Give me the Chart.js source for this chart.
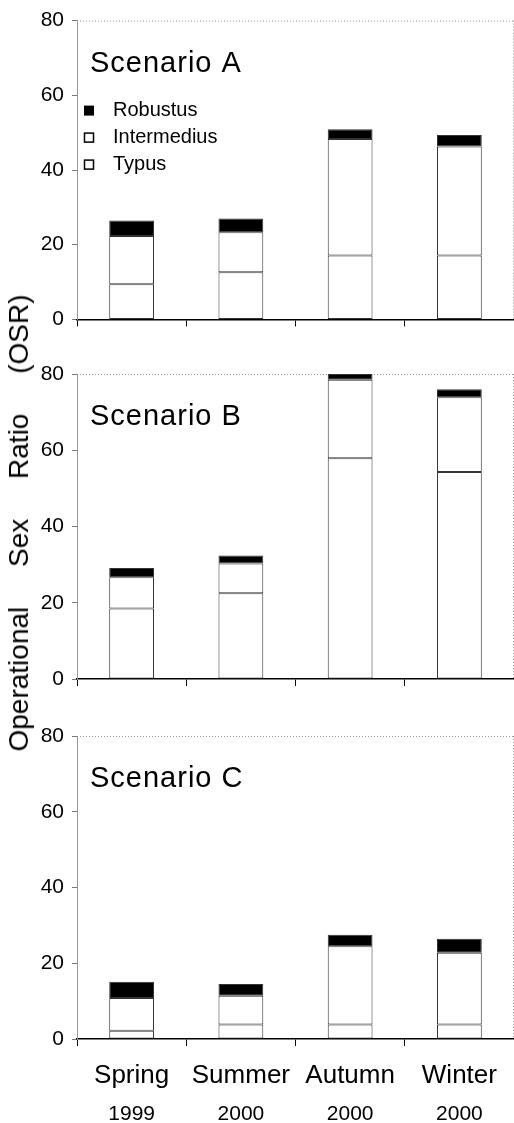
<!DOCTYPE html>
<html>
<head>
<meta charset="utf-8">
<script src="https://cdn.jsdelivr.net/npm/chart.js@4/dist/chart.umd.min.js"></script>
<style>
  body { margin: 0; background: #fff; }
  #wrap { position: relative; width: 514px; height: 1123px; }
  canvas { position: absolute; left: 0; }
  #ytitle {
    position: absolute; left: 19px; top: 523px;
    transform: translate(-50%, -50%) rotate(-90deg);
    font: 28px "Liberation Sans", Arial, sans-serif;
    word-spacing: 32px; white-space: nowrap; color: #000;
  }
</style>
</head>
<body>
<div id="wrap">
  <canvas id="panelA" width="514" height="340" style="top:0"></canvas>
  <canvas id="panelB" width="514" height="360" style="top:340px"></canvas>
  <canvas id="panelC" width="514" height="423" style="top:700px"></canvas>
  <div id="ytitle">Operational Sex Ratio (OSR)</div>
</div>
<script>
// categories
const seasons = ['Spring', 'Summer', 'Autumn', 'Winter'];
const years = ['1999', '2000', '2000', '2000'];
const seriesNames = ['Typus', 'Intermedius', 'Robustus'];
const yTicks = [0, 20, 40, 60, 80];

// Scenario A
const typusA = [9.4, 12.6, 17.1, 17.1];
const intermediusA = [12.9, 10.7, 31.2, 29.2];
const robustusA = [4.2, 3.7, 2.6, 3.1];

// Scenario B
const typusB = [18.5, 22.5, 57.9, 54.3];
const intermediusB = [8.2, 7.8, 20.6, 19.6];
const robustusB = [2.4, 2.1, 1.5, 2.1];

// Scenario C
const typusC = [2.2, 3.8, 3.8, 3.8];
const intermediusC = [8.6, 7.6, 20.7, 19.0];
const robustusC = [4.3, 3.1, 3.0, 3.7];

const FONT = '"Liberation Sans", Arial, sans-serif';
Chart.defaults.font.family = FONT;
Chart.defaults.color = '#000';

// cadre pointillé, titre du panneau et légende
const panelDecor = {
  id: 'panelDecor',
  beforeDatasetsDraw(chart) {
    const { ctx, chartArea: a } = chart;
    ctx.save();
    ctx.strokeStyle = '#999';
    ctx.lineWidth = 1;
    ctx.setLineDash([1, 2]);
    ctx.beginPath();
    ctx.moveTo(a.left, a.top + 0.5);
    ctx.lineTo(a.right, a.top + 0.5);
    ctx.moveTo(a.right - 0.5, a.top);
    ctx.lineTo(a.right - 0.5, a.bottom);
    ctx.stroke();
    ctx.restore();
  },
  afterDraw(chart, args, opts) {
    const { ctx, chartArea: a } = chart;
    ctx.save();
    ctx.fillStyle = '#000';
    ctx.textBaseline = 'alphabetic';
    ctx.font = '29px ' + FONT;
    ctx.letterSpacing = '1px';
    ctx.fillText(opts.title, a.left + 13, a.top + 51);
    ctx.letterSpacing = '0px';
    if (opts.legend) {
      ctx.font = '20px ' + FONT;
      ctx.textBaseline = 'middle';
      const items = chart.data.datasets.slice().reverse();
      items.forEach((ds, i) => {
        const cy = a.top + 90 + i * 27;
        const x = a.left + 7;
        if (ds.backgroundColor === '#000') {
          ctx.fillStyle = '#000';
          ctx.fillRect(x, cy - 5, 10, 10);
        } else {
          ctx.strokeStyle = '#000';
          ctx.lineWidth = 1.5;
          ctx.strokeRect(x + 0.5, cy - 4.5, 9, 9);
        }
        ctx.fillStyle = '#000';
        ctx.fillText(ds.label, a.left + 36, cy);
      });
    }
    ctx.restore();
  }
};

function criarPainel(id, title, typus, inter, robust, cfg) {
  const datasets = [
    { label: seriesNames[0], data: typus, backgroundColor: '#fff' },
    { label: seriesNames[1], data: inter, backgroundColor: '#fff' },
    { label: seriesNames[2], data: robust, backgroundColor: '#000' }
  ].map(d => Object.assign(d, {
    borderColor: '#333', borderWidth: 1, borderSkipped: false,
    barPercentage: 0.41, categoryPercentage: 1
  }));

  const scales = {
    x: {
      stacked: true, weight: 0,
      ticks: { display: cfg.labels, font: { size: 26 }, color: '#000', padding: 14 },
      grid: { drawOnChartArea: false, tickLength: 7, color: '#000', offset: true },
      border: { color: '#000', width: 1.5 },
      afterFit(s) { s.height = cfg.xHeight; }
    },
    y: {
      stacked: true, min: yTicks[0], max: yTicks[yTicks.length - 1],
      afterBuildTicks(s) { s.ticks = yTicks.map(v => ({ value: v })); },
      ticks: { font: { size: 21 }, color: '#000', padding: 8 },
      grid: { drawOnChartArea: false, tickLength: 5, color: '#777' },
      border: { color: '#999', dash: [2, 2] },
      afterFit(s) { s.width = 77; }
    }
  };
  if (cfg.labels) {
    scales.x2 = {
      type: 'category', labels: years, position: 'bottom', offset: true, weight: 1,
      grid: { display: false }, border: { display: false },
      ticks: { font: { size: 21 }, color: '#000', padding: 3 },
      afterFit(s) { s.height = 32; }
    };
  }

  return new Chart(document.getElementById(id), {
    type: 'bar',
    data: { labels: seasons, datasets: datasets },
    options: {
      responsive: false,
      animation: false,
      layout: { padding: { top: cfg.top, left: 0, right: 0, bottom: 0 } },
      scales: scales,
      plugins: {
        legend: { display: false },
        tooltip: { enabled: false },
        panelDecor: { title: title, legend: cfg.legend }
      }
    },
    plugins: [panelDecor]
  });
}

document.addEventListener('DOMContentLoaded', function () {
  criarPainel('panelA', 'Scenario A', typusA, intermediusA, robustusA,
    { top: 16, xHeight: 19, labels: false, legend: true });
  criarPainel('panelB', 'Scenario B', typusB, intermediusB, robustusB,
    { top: 34, xHeight: 21, labels: false, legend: false });
  criarPainel('panelC', 'Scenario C', typusC, intermediusC, robustusC,
    { top: 36, xHeight: 52, labels: true, legend: false });
});
</script>
</body>
</html>
